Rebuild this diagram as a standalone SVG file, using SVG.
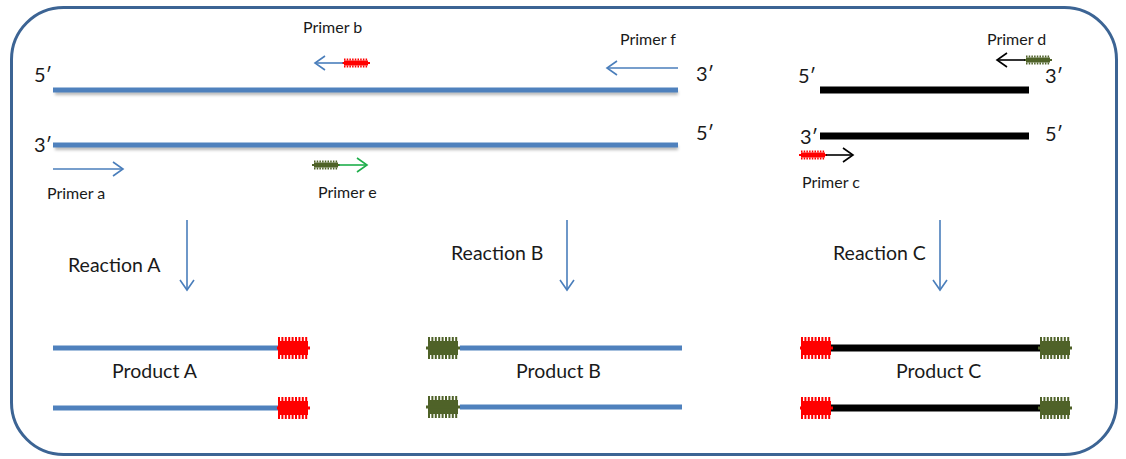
<svg xmlns="http://www.w3.org/2000/svg" xmlns:xlink="http://www.w3.org/1999/xlink" width="1126" height="459" viewBox="0 0 1126 459">
  <style>
    .lbl { font-family: Lato, "Open Sans", "Liberation Sans", sans-serif; fill: #1a1a1a; }
    .end { font-size: 20px; }
    .primer { font-size: 16px; }
    .big { font-size: 19.5px; }
    .dna { stroke: #4f81bd; stroke-width: 5; fill: none; }
    .dna-shadow { stroke: #000; stroke-opacity: 0.28; stroke-width: 4; fill: none; filter: url(#soft); }
    .dsdna { stroke: #000; stroke-width: 7; fill: none; }
    .arr-blue { stroke: #4a7ebb; stroke-width: 1.6; fill: none; marker-end: url(#headBlue); }
    .arr-black { stroke: #000; stroke-width: 1.6; fill: none; marker-end: url(#headBlack); }
    .arr-green { stroke: #1fae4b; stroke-width: 1.6; fill: none; marker-end: url(#headGreen); }
  </style>
  <defs>
    <filter id="soft" filterUnits="userSpaceOnUse" x="0" y="0" width="1126" height="459">
      <feGaussianBlur stdDeviation="1.6"/>
    </filter>
    <marker id="headBlue" markerUnits="userSpaceOnUse" markerWidth="20" markerHeight="20" viewBox="-12 -10 14 20" refX="0" refY="0" orient="auto">
      <path d="M-10,-7 L0,0 L-10,7" fill="none" stroke="#4a7ebb" stroke-width="1.6"/>
    </marker>
    <marker id="headBlack" markerUnits="userSpaceOnUse" markerWidth="20" markerHeight="20" viewBox="-12 -10 14 20" refX="0" refY="0" orient="auto">
      <path d="M-10,-7 L0,0 L-10,7" fill="none" stroke="#000" stroke-width="1.6"/>
    </marker>
    <marker id="headGreen" markerUnits="userSpaceOnUse" markerWidth="20" markerHeight="20" viewBox="-12 -10 14 20" refX="0" refY="0" orient="auto">
      <path d="M-10,-7 L0,0 L-10,7" fill="none" stroke="#1fae4b" stroke-width="1.6"/>
    </marker>
    <!-- large helical tag on products: 32 wide, centred on y=0 -->
    <g id="coilBigRed">
      <rect x="1" y="-7" width="30" height="14" fill="#ff0000"/>
      <line x1="1" y1="-9" x2="31" y2="-9" stroke="#ff0000" stroke-width="4" stroke-dasharray="2 1.4"/>
      <line x1="1" y1="9" x2="31" y2="9" stroke="#ff0000" stroke-width="4" stroke-dasharray="2 1.4"/>
      <rect x="0" y="-1.5" width="33" height="3" fill="#ff0000"/>
    </g>
    <g id="coilBigGreen">
      <rect x="1" y="-7" width="30" height="14" fill="#4f6228"/>
      <line x1="1" y1="-9" x2="31" y2="-9" stroke="#4f6228" stroke-width="4" stroke-dasharray="2 1.4"/>
      <line x1="1" y1="9" x2="31" y2="9" stroke="#4f6228" stroke-width="4" stroke-dasharray="2 1.4"/>
      <rect x="-1" y="-1.5" width="34" height="3" fill="#4f6228"/>
    </g>
    <!-- small helical tag on primers: 26 wide -->
    <g id="coilSmallRed">
      <rect x="1" y="-2.5" width="24" height="5" fill="#ff0000"/>
      <line x1="1" y1="-3.5" x2="25" y2="-3.5" stroke="#ff0000" stroke-width="2" stroke-dasharray="1.5 1.2"/>
      <line x1="1" y1="3.5" x2="25" y2="3.5" stroke="#ff0000" stroke-width="2" stroke-dasharray="1.5 1.2"/>
      <rect x="-1" y="-1" width="28" height="2" fill="#ff0000"/>
    </g>
    <g id="coilSmallGreen">
      <rect x="1" y="-2.5" width="24" height="5" fill="#4f6228"/>
      <line x1="1" y1="-3.5" x2="25" y2="-3.5" stroke="#4f6228" stroke-width="2" stroke-dasharray="1.5 1.2"/>
      <line x1="1" y1="3.5" x2="25" y2="3.5" stroke="#4f6228" stroke-width="2" stroke-dasharray="1.5 1.2"/>
      <rect x="-1" y="-1" width="28" height="2" fill="#4f6228"/>
    </g>
  </defs>

  <rect width="1126" height="459" fill="#ffffff"/>
  <!-- outer frame -->
  <rect x="11.5" y="7.5" width="1105" height="447" rx="52" ry="52" fill="none" stroke="#3c6494" stroke-width="3"/>

  <!-- template: blue duplex -->
  <g id="template-blue">
    <line class="dna-shadow" x1="55" y1="93" x2="678" y2="93"/>
    <line class="dna-shadow" x1="55" y1="148" x2="678" y2="148"/>
    <line class="dna" x1="53" y1="90" x2="678" y2="90"/>
    <line class="dna" x1="53" y1="145" x2="678" y2="145"/>
    <text class="lbl end" x="34" y="82">5′</text>
    <text class="lbl end" x="696" y="81">3′</text>
    <text class="lbl end" x="34" y="152">3′</text>
    <text class="lbl end" x="696" y="140">5′</text>
  </g>

  <!-- template: black duplex -->
  <g id="template-black">
    <line class="dsdna" x1="820" y1="90" x2="1029" y2="90"/>
    <line class="dsdna" x1="820" y1="136" x2="1029" y2="136"/>
    <text class="lbl end" x="798" y="83">5′</text>
    <text class="lbl end" x="1045" y="83">3′</text>
    <text class="lbl end" x="800" y="144">3′</text>
    <text class="lbl end" x="1045" y="141">5′</text>
  </g>

  <!-- primers -->
  <g id="primer-a">
    <line class="arr-blue" x1="53" y1="169" x2="123" y2="169"/>
    <text class="lbl primer" x="47" y="199">Primer a</text>
  </g>
  <g id="primer-b">
    <use xlink:href="#coilSmallRed" x="343" y="63"/>
    <line class="arr-blue" x1="343" y1="63" x2="315" y2="63"/>
    <text class="lbl primer" x="303" y="33">Primer b</text>
  </g>
  <g id="primer-c">
    <use xlink:href="#coilSmallRed" x="800" y="155"/>
    <line class="arr-black" x1="826" y1="155" x2="853" y2="155"/>
    <text class="lbl primer" x="802" y="188">Primer c</text>
  </g>
  <g id="primer-d">
    <use xlink:href="#coilSmallGreen" x="1025" y="60"/>
    <line class="arr-black" x1="1025" y1="60" x2="997" y2="60"/>
    <text class="lbl primer" x="987" y="45">Primer d</text>
  </g>
  <g id="primer-e">
    <use xlink:href="#coilSmallGreen" x="313" y="165"/>
    <line class="arr-green" x1="339" y1="165" x2="367" y2="165"/>
    <text class="lbl primer" x="318" y="198">Primer e</text>
  </g>
  <g id="primer-f">
    <line class="arr-blue" x1="678" y1="68" x2="607" y2="68"/>
    <text class="lbl primer" x="620" y="45">Primer f</text>
  </g>

  <!-- reaction steps -->
  <g id="connectors">
    <line class="arr-blue" x1="187" y1="220" x2="187" y2="290"/>
    <line class="arr-blue" x1="567" y1="220" x2="567" y2="290"/>
    <line class="arr-blue" x1="940" y1="220" x2="940" y2="290"/>
  </g>
  <g id="reaction-a"><text class="lbl big" x="68" y="272">Reaction A</text></g>
  <g id="reaction-b"><text class="lbl big" x="451" y="260">Reaction B</text></g>
  <g id="reaction-c"><text class="lbl big" x="833" y="260">Reaction C</text></g>

  <!-- products -->
  <g id="product-a">
    <line class="dna" x1="53" y1="348" x2="278" y2="348"/>
    <line class="dna" x1="53" y1="408" x2="278" y2="408"/>
    <use xlink:href="#coilBigRed" x="277" y="348"/>
    <use xlink:href="#coilBigRed" x="277" y="408"/>
    <text class="lbl big" x="112" y="378">Product A</text>
  </g>
  <g id="product-b">
    <line class="dna" x1="460" y1="348" x2="682" y2="348"/>
    <line class="dna" x1="460" y1="407" x2="682" y2="407"/>
    <use xlink:href="#coilBigGreen" x="427" y="348"/>
    <use xlink:href="#coilBigGreen" x="427" y="407"/>
    <text class="lbl big" x="516" y="378">Product B</text>
  </g>
  <g id="product-c">
    <line class="dsdna" x1="830" y1="348" x2="1040" y2="348"/>
    <line class="dsdna" x1="830" y1="408" x2="1040" y2="408"/>
    <use xlink:href="#coilBigRed" x="800" y="348"/>
    <use xlink:href="#coilBigRed" x="800" y="408"/>
    <use xlink:href="#coilBigGreen" x="1039" y="348"/>
    <use xlink:href="#coilBigGreen" x="1039" y="408"/>
    <text class="lbl big" x="896" y="378">Product C</text>
  </g>
</svg>
